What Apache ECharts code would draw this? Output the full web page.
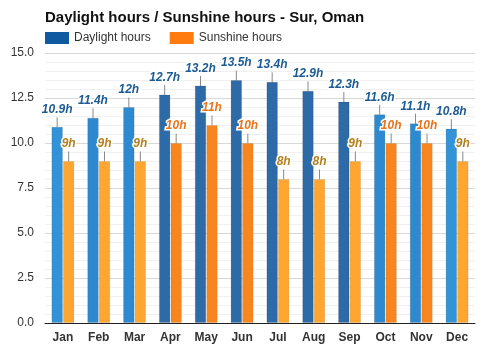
<!DOCTYPE html>
<html><head><meta charset="utf-8">
<script src="https://cdn.jsdelivr.net/npm/echarts@6/dist/echarts.min.js"></script>
<style>html,body{margin:0;padding:0;background:#fff}#c{width:500px;height:350px}</style>
</head><body><div id="c"></div>
<script>
var months = ['Jan','Feb','Mar','Apr','May','Jun','Jul','Aug','Sep','Oct','Nov','Dec'];
var daylightHours = [10.9, 11.4, 12, 12.7, 13.2, 13.5, 13.4, 12.9, 12.3, 11.6, 11.1, 10.8];
var sunshineHours = [9, 9, 9, 10, 11, 10, 8, 8, 9, 10, 10, 9];
var yTicks = [0, 2.5, 5, 7.5, 10, 12.5, 15];

function dayColor(v){ if (v >= 12.2) return '#2c6aa8'; if (v >= 11) return '#2e8ad0'; return '#3393d8'; }
function sunColor(v){ return v >= 10 ? '#f8861f' : '#fea62f'; }
function sunLabelColor(v){ return v >= 10 ? '#e8731a' : '#b47f1c'; }
var font = "'Liberation Sans', Arial, sans-serif";

var chart = echarts.init(document.getElementById('c'), null, {renderer:'canvas'});
chart.setOption({
  animation:false,
  title:{text:'Daylight hours / Sunshine hours - Sur, Oman', left:40, top:5,
    textStyle:{fontFamily:font, fontSize:15, fontWeight:'bold', color:'#111'}},
  legend:{left:40, top:27, itemWidth:24, itemHeight:12, itemGap:19, icon:'rect',
    textStyle:{fontFamily:font, fontSize:12, color:'#333'},
    data:[{name:'Daylight hours', itemStyle:{color:'#0f5aa0'}},{name:'Sunshine hours', itemStyle:{color:'#ff7a0f'}}]},
  grid:{left:45, right:25, top:53, bottom:27},
  xAxis:{type:'category', data:months,
    axisLine:{lineStyle:{color:'#222'}}, axisTick:{show:false},
    axisLabel:{fontFamily:font, fontSize:12, fontWeight:'bold', color:'#333', margin:9}},
  yAxis:{type:'value', min:yTicks[0], max:yTicks[yTicks.length-1], interval:2.5,
    axisLabel:{fontFamily:font, fontSize:12, color:'#333', margin:11, formatter:function(v){return v.toFixed(1);}},
    splitLine:{lineStyle:{color:'#d8d8d8'}},
    minorTick:{show:false, splitNumber:5},
    minorSplitLine:{show:true, lineStyle:{color:'#f0f0f0'}}},
  series:[
    {name:'Daylight hours', type:'bar', barWidth:11.5, barGap:'0%',
      data:daylightHours.map(function(v){return {value:v, itemStyle:{color:dayColor(v), borderColor:'rgba(0,0,0,0.12)', borderWidth:1}};}),
      label:{show:true, position:'top', distance:1, formatter:function(p){return p.value+'h';},
        fontFamily:font, fontSize:12, fontWeight:'bold', fontStyle:'italic', color:'#1d5b94',
        textBorderColor:'#fff', textBorderWidth:3},
      labelLayout:{dy:-10},
      labelLine:{show:true, lineStyle:{color:'#8a8a8a', width:1}}},
    {name:'Sunshine hours', type:'bar', barWidth:11.5, barGap:'0%',
      data:sunshineHours.map(function(v){return {value:v, itemStyle:{color:sunColor(v), borderColor:'rgba(0,0,0,0.08)', borderWidth:1},
        label:{color:sunLabelColor(v)}};}),
      label:{show:true, position:'top', distance:1, formatter:function(p){return p.value+'h';},
        fontFamily:font, fontSize:12, fontWeight:'bold', fontStyle:'italic',
        textBorderColor:'#fff', textBorderWidth:3},
      labelLayout:{dy:-10},
      labelLine:{show:true, lineStyle:{color:'#8a8a8a', width:1}}}
  ]
});
</script></body></html>
